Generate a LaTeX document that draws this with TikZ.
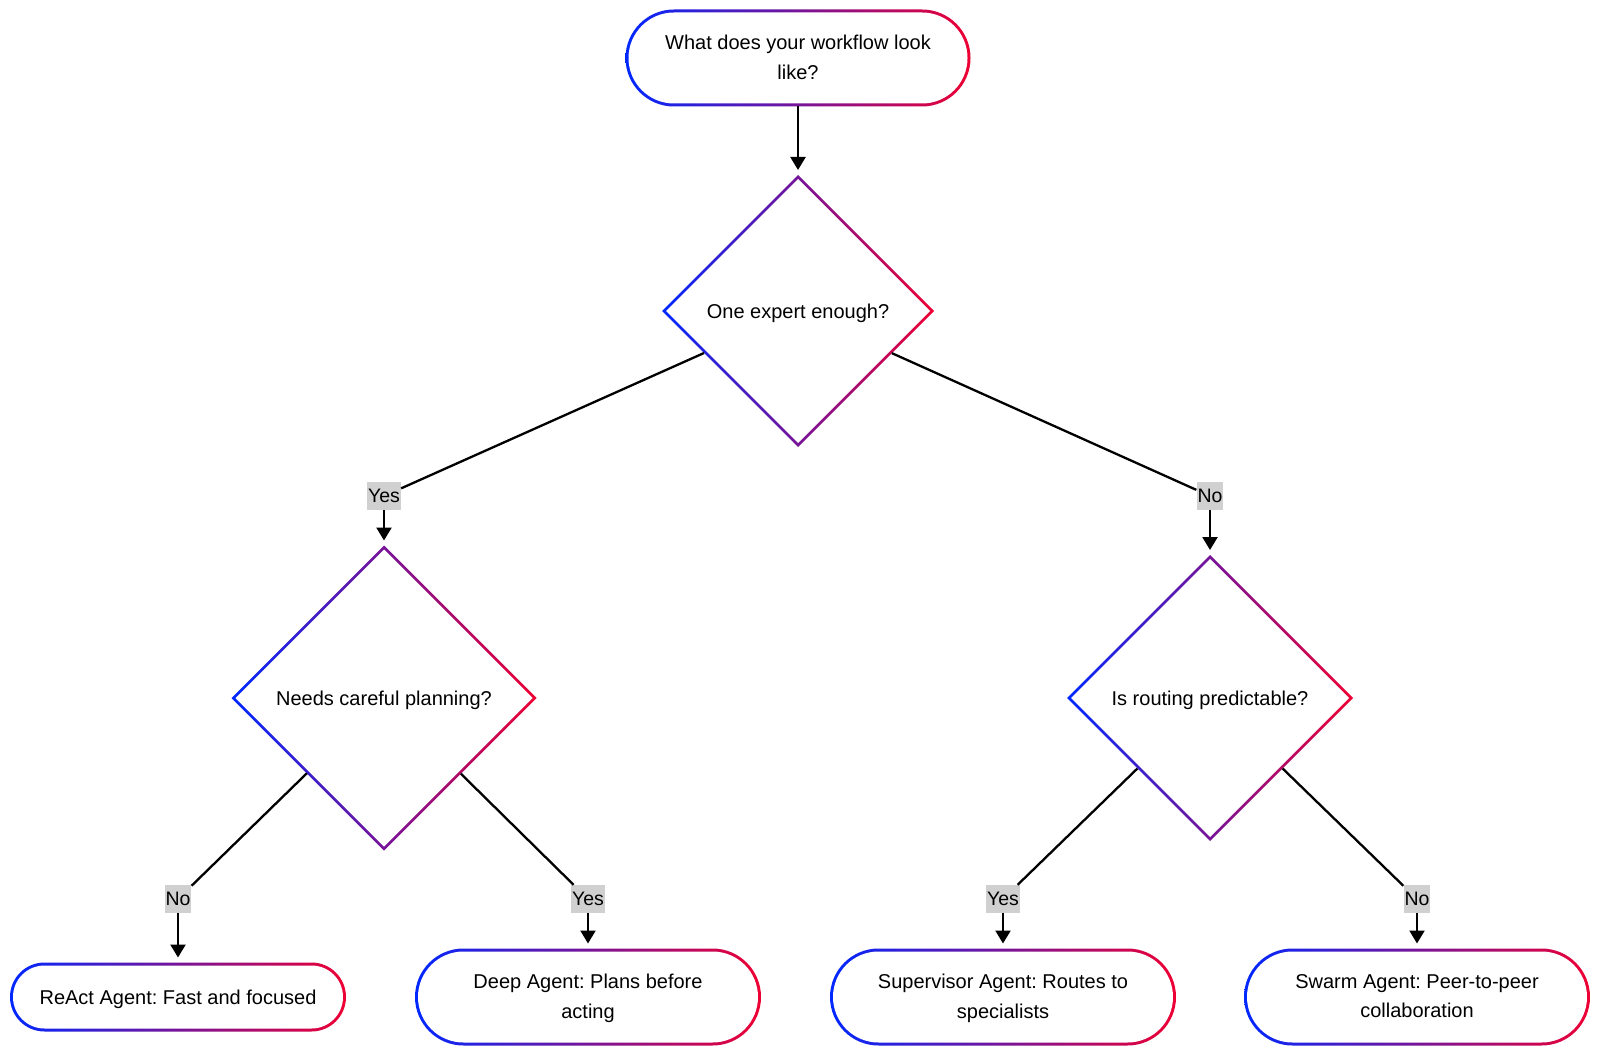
\documentclass[tikz,border=0pt]{standalone}
\usepackage{fontspec}
\setmainfont{Liberation Sans}
\frenchspacing
\usetikzlibrary{shapes.geometric,arrows.meta}
\definecolor{gblue}{RGB}{0,40,255}
\definecolor{gred}{RGB}{238,0,51}
\definecolor{lblgray}{RGB}{208,208,208}
\tikzset{
  shadedia/.style={diamond, aspect=1, inner sep=0pt, outer sep=0pt, draw=none,
    left color=gblue, right color=gred, minimum size=#1},
  whitedia/.style={diamond, aspect=1, inner sep=0pt, outer sep=0pt, draw=none,
    fill=white, minimum size=#1},
  shadebox/.style 2 args={rectangle, rounded corners=#2/2, inner sep=0pt, outer sep=0pt,
    draw=none, left color=gblue, right color=gred, minimum width=#1, minimum height=#2},
  whitebox/.style 2 args={rectangle, rounded corners=#2/2, inner sep=0pt, outer sep=0pt,
    draw=none, fill=white, minimum width=#1, minimum height=#2},
  txt/.style={align=center, inner sep=0pt, font=\fontsize{20}{29.5}\selectfont,
    execute at begin node=\strut, execute at end node=\strut, yshift=-3.5pt},
  txtone/.style={txt, yshift=2pt},
  lbl/.style={fill=lblgray, inner xsep=1pt, inner ysep=0pt, minimum height=28pt,
    font=\fontsize{19.5}{22}\selectfont},
  conn/.style={line width=2.3pt, black},
  arr/.style={conn, -{Triangle[length=13pt,width=15pt]}, shorten >=5pt},
}
\begin{document}
\begin{tikzpicture}[x=1pt,y=-1pt]
\useasboundingbox (0,0) rectangle (1600,1056);
% top
\node[shadebox={345}{97}] (top) at (798,58) {};
\node[whitebox={339}{91}] (topw) at (top) {};
\node[txt] (topt) at (top) {What does your workflow look\\like?};
% diamonds
\node[shadedia=272] (d1) at (798,311) {};
\node[whitedia=264] (d1w) at (d1) {};
\node[txtone] (d1t) at (d1) {One expert enough?};
\node[shadedia=305] (d2) at (384,698) {};
\node[whitedia=297] (d2w) at (d2) {};
\node[txtone] (d2t) at (d2) {Needs careful planning?};
\node[shadedia=286] (d3) at (1210,698) {};
\node[whitedia=278] (d3w) at (d3) {};
\node[txtone] (d3t) at (d3) {Is routing predictable?};
% leaves
\node[shadebox={336}{69}] (react) at (178,997) {};
\node[whitebox={330}{63}] (reactw) at (react) {};
\node[txtone] (reactt) at (react) {ReAct Agent: Fast and focused};
\node[shadebox={346}{97}] (deep) at (588,997) {};
\node[whitebox={340}{91}] (deepw) at (deep) {};
\node[txt] (deept) at (deep) {Deep Agent: Plans before\\acting};
\node[shadebox={346}{97}] (sup) at (1003,997) {};
\node[whitebox={340}{91}] (supw) at (sup) {};
\node[txt] (supt) at (sup) {Supervisor Agent: Routes to\\specialists};
\node[shadebox={346}{97}] (swarm) at (1417,997) {};
\node[whitebox={340}{91}] (swarmw) at (swarm) {};
\node[txt] (swarmt) at (swarm) {Swarm Agent: Peer-to-peer\\collaboration};
% labels
\node[lbl] (l1) at (384,496) {Yes};
\node[lbl] (l2) at (1210,496) {No};
\node[lbl] (l3) at (178,899) {No};
\node[lbl] (l4) at (588,899) {Yes};
\node[lbl] (l5) at (1003,899) {Yes};
\node[lbl] (l6) at (1417,899) {No};
% connectors
\draw[arr] (top) -- (d1);
\draw[conn] (d1) -- (l1);
\draw[arr] (l1) -- (d2);
\draw[conn] (d1) -- (l2);
\draw[arr] (l2) -- (d3);
\draw[conn] (d2) -- (l3);
\draw[arr] (l3) -- (react);
\draw[conn] (d2) -- (l4);
\draw[arr] (l4) -- (deep);
\draw[conn] (d3) -- (l5);
\draw[arr] (l5) -- (sup);
\draw[conn] (d3) -- (l6);
\draw[arr] (l6) -- (swarm);
\end{tikzpicture}
\end{document}
